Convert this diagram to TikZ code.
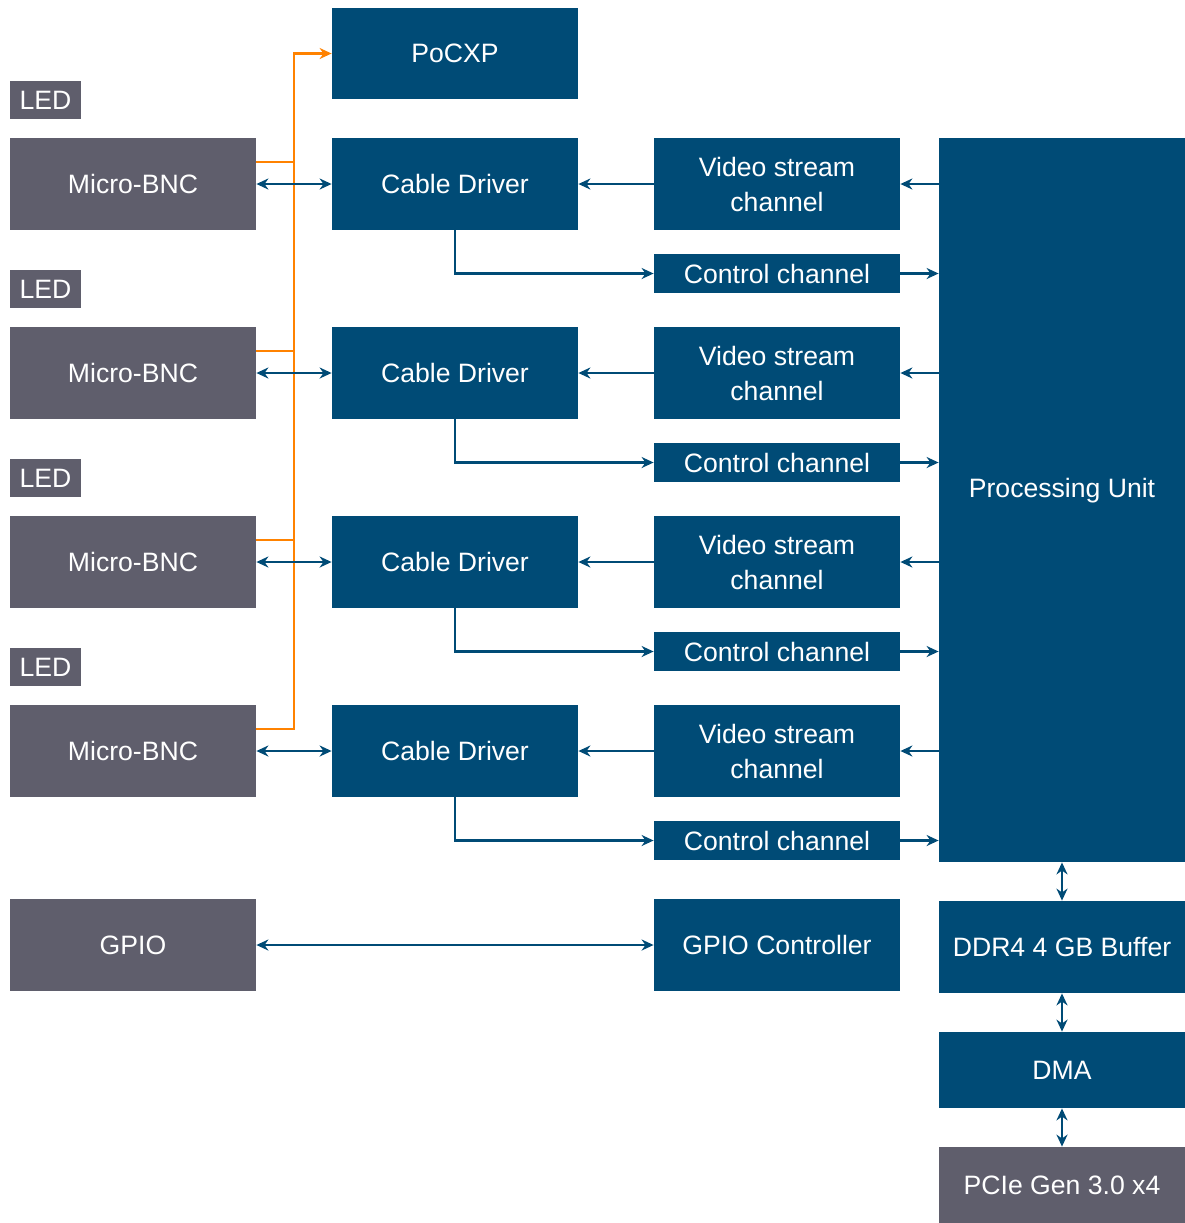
\documentclass[tikz,border=0pt]{standalone}
\usepackage{fontspec}
\setmainfont{Liberation Sans}
\usetikzlibrary{arrows.meta,positioning,calc}
\definecolor{Navy}{HTML}{004B76}
\definecolor{Slate}{HTML}{5F5E6C}
\definecolor{Amber}{HTML}{FF8200}

\begin{document}
\begin{tikzpicture}[x=0.5pt,y=-0.5pt,
    blk/.style={fill=Navy,text=white,inner sep=0pt,minimum width=123pt,minimum height=46pt,
      align=center,font=\fontsize{13.3}{17.5}\selectfont},
    port/.style={blk,fill=Slate},
    thin/.style={blk,minimum height=19.5pt},
    led/.style={port,minimum width=35.5pt,minimum height=19pt},
    arr/.style={-{Stealth[length=6pt,width=5.5pt]},line width=1.1pt,Navy},
    dbl/.style={arr,{Stealth[length=6pt,width=5.5pt]}-{Stealth[length=6pt,width=5.5pt]}},
    pw/.style={-{Stealth[length=6pt,width=5.5pt]},line width=1.1pt,Amber}
  ]
  \useasboundingbox (0,0) rectangle (1185,1223);
  \node[blk,minimum height=45.5pt] (pocxp) at (455,53.5) {PoCXP};
  \foreach \i/\y in {1/184,2/373,3/562,4/751}{
    \node[led] (led\i) at (45.5,\y-84) {LED};
    \node[port] (bnc\i) at (133,\y) {Micro-BNC};
    \node[blk] (drv\i) at (455,\y) {Cable Driver};
    \node[blk] (vid\i) at (777,\y) {Video stream\\channel};
    \node[thin] (ctl\i) at (777,\y+89.5) {Control channel};
  }
  \node[blk,minimum height=362pt,text depth=12pt] (pu) at (1062,500) {Processing Unit};
  \node[port] (gpio) at (133,945) {GPIO};
  \node[blk] (gpioc) at (777,945) {GPIO Controller};
  \node[blk] (ddr) at (1062,947) {DDR4 4 GB Buffer};
  \node[blk,minimum height=38pt] (dma) at (1062,1070) {DMA};
  \node[port,minimum height=38pt] (pcie) at (1062,1185) {PCIe Gen 3.0 x4};

  % power lines
  \coordinate (bend) at ($(bnc1.east)!.5!(drv1.west)$);
  \draw[pw] ([yshift=11pt]bnc4.east) -| (bend |- pocxp.west) -- (pocxp.west);
  \foreach \i in {1,2,3} \draw[Amber,line width=1.1pt] ([yshift=11pt]bnc\i.east) -- ++(19pt,0);

  % data lines
  \foreach \i in {1,...,4}{
    \draw[dbl] (bnc\i) -- (drv\i);
    \draw[arr] (vid\i) -- (drv\i);
    \draw[arr] (vid\i.east -| pu.west) -- (vid\i);
    \draw[arr] (drv\i) |- (ctl\i);
    \draw[arr] (ctl\i) -- (ctl\i -| pu.west);
  }
  \draw[dbl] (gpio) -- (gpioc);
  \draw[dbl] (pu) -- (ddr);
  \draw[dbl] (ddr) -- (dma);
  \draw[dbl] (dma) -- (pcie);
\end{tikzpicture}
\end{document}
